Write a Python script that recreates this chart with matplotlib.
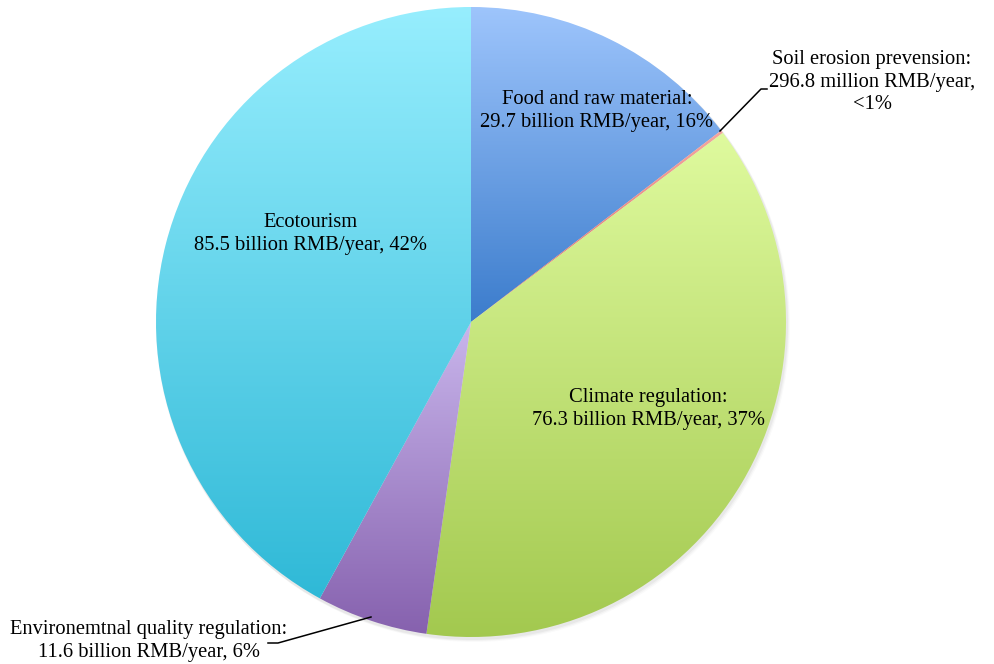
import numpy as np
import matplotlib
matplotlib.use("Agg")
import matplotlib.pyplot as plt
from matplotlib.colors import LinearSegmentedColormap
from matplotlib.patches import Circle

categories = ["Food and raw material", "Soil erosion prevension", "Climate regulation",
              "Environemtnal quality regulation", "Ecotourism"]
values = [29.7, 0.2968, 76.3, 11.6, 85.5]  # billion RMB/year
labels = ["Food and raw material:\n29.7 billion RMB/year, 16%",
          "Soil erosion prevension:\n296.8 million RMB/year,\n<1%",
          "Climate regulation:\n76.3 billion RMB/year, 37%",
          "Environemtnal quality regulation:\n11.6 billion RMB/year, 6%",
          "Ecotourism\n85.5 billion RMB/year, 42%"]
grad_top = ["#9ec5fc", "#f4a6a0", "#dffa9e", "#c9b6ec", "#97eefe"]
grad_bot = ["#3b7ccc", "#e06b65", "#a2c84e", "#8661ae", "#2fb9d7"]

plt.rcParams['font.family'] = ['Liberation Serif', 'DejaVu Serif']

fig = plt.figure(figsize=(9.94, 6.64), dpi=100)
ax = fig.add_axes([0, 0, 1, 1])
ax.set_xlim(0, 994)
ax.set_ylim(0, 664)
ax.set_aspect('equal')
ax.axis('off')

cx, cy, R = 471, 342, 315

# subtle shadow
for i, a in enumerate([0.04, 0.03, 0.02]):
    ax.add_patch(Circle((cx + 1 + i, cy - 2 - i), R + 1, facecolor='black', alpha=a,
                        edgecolor='none', zorder=0))

wedges, _ = ax.pie(values, startangle=90, counterclock=False, center=(cx, cy), radius=R,
                   wedgeprops=dict(edgecolor='none', linewidth=0), frame=True)
ax.set_xlim(0, 994)
ax.set_ylim(0, 664)
ax.axis('off')

for w, ct, cb in zip(wedges, grad_top, grad_bot):
    w.set_facecolor('none')
    verts = w.get_path().vertices
    y0, y1 = verts[:, 1].min(), verts[:, 1].max()
    x0, x1 = verts[:, 0].min(), verts[:, 0].max()
    cmap = LinearSegmentedColormap.from_list('g', [cb, ct])
    grad = np.linspace(0, 1, 256).reshape(-1, 1)
    im = ax.imshow(grad, cmap=cmap, extent=(x0 - 1, x1 + 1, y0 - 1, y1 + 1), origin='lower',
                   aspect='auto', zorder=1, interpolation='bilinear')
    im.set_clip_path(w)

ax.set_xlim(0, 994)
ax.set_ylim(0, 664)

fs = 14.8
ls = 1.25
ax.text(597, 553, labels[0], ha='center', va='center', fontsize=fs, zorder=5, linespacing=ls)
ax.text(872, 582, labels[1], ha='center', va='center', fontsize=fs, zorder=5, linespacing=ls)
ax.text(648, 255, labels[2], ha='center', va='center', fontsize=fs, zorder=5, linespacing=ls)
ax.text(149, 23, labels[3], ha='center', va='center', fontsize=fs, zorder=5, linespacing=ls)
ax.text(311, 430, labels[4], ha='center', va='center', fontsize=fs, zorder=5, linespacing=ls)

# leader lines
ax.plot([720, 761, 767], [533, 575, 575], color='black', lw=1.1, zorder=5)
ax.plot([268, 278, 371], [21, 21, 47], color='black', lw=1.1, zorder=5)

fig.savefig("out.png", dpi=100)
